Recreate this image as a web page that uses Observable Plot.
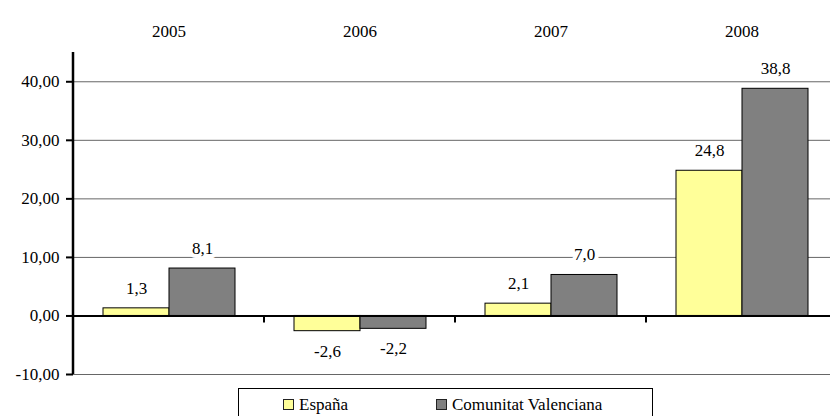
<!DOCTYPE html>
<html>
<head>
<meta charset="utf-8">
<script src="https://cdn.jsdelivr.net/npm/d3@7"></script>
<script src="https://cdn.jsdelivr.net/npm/@observablehq/plot@0.6"></script>
<style>
  html, body { margin: 0; padding: 0; overflow: hidden; background: #fff; }
  #legend { position: relative; margin-left: 238px; margin-top: 4px; width: 413px; height: 40px;
    border: 1px solid #000; font-family: "Liberation Serif", "DejaVu Serif", serif; font-size: 17px; color: #000; }
  .sw { position: absolute; top: 10px; width: 9px; height: 9px; border: 1px solid #222; }
  .lt { position: absolute; top: 7px; line-height: 17px; white-space: nowrap; }
</style>
</head>
<body>
<div id="chart"></div>
<div id="legend"></div>
<script>
const years = ["2005", "2006", "2007", "2008"];
const series = ["España", "Comunitat Valenciana"];
const espana = [1.3, -2.6, 2.1, 24.8];
const valenciana = [8.1, -2.2, 7.0, 38.8];
const colors = ["#FFFF99", "#808080"];
const yTicks = [-10, 0, 10, 20, 30, 40];
const gridTicks = [-10, 10, 20, 30, 40];

const data = years.flatMap((yr, i) => [
  {year: yr, series: series[0], value: espana[i]},
  {year: yr, series: series[1], value: valenciana[i]}
]);
const fmt1 = d => d.toFixed(1).replace(".", ",");
const fmt2 = d => d.toFixed(2).replace(".", ",");
const font = '"Liberation Serif", "DejaVu Serif", serif';

const chart = Plot.plot({
  width: 830,
  height: 384,
  marginLeft: 71,
  marginRight: 0,
  marginTop: 52,
  marginBottom: 10,
  style: {fontFamily: font, fontSize: "17px", background: "white", color: "black"},
  fx: {domain: years, range: [71, 838], padding: 0},
  x: {domain: series, paddingInner: 0, paddingOuter: 0.44, axis: null},
  y: {domain: [-10, 45]},
  color: {domain: series, range: colors},
  marks: [
    Plot.ruleY(gridTicks, {stroke: "#666", strokeWidth: 1}),
    Plot.barY(data, {fx: "year", x: "series", y: "value", fill: "series", stroke: "#000", strokeWidth: 1}),
    Plot.ruleY([0], {stroke: "#000", strokeWidth: 2}),
    Plot.text(data.filter(d => d.value >= 0), {
      fx: "year", x: "series", y: "value", text: d => fmt1(d.value),
      dy: -20, lineAnchor: "middle", fill: "#000", stroke: "white", strokeWidth: 8,
      paintOrder: "stroke", fontSize: 17, fontFamily: font
    }),
    Plot.text(data.filter(d => d.value < 0), {
      fx: "year", x: "series", y: "value", text: d => fmt1(d.value),
      dy: 20, lineAnchor: "middle", fill: "#000", stroke: "white", strokeWidth: 8,
      paintOrder: "stroke", fontSize: 17, fontFamily: font
    }),
    Plot.axisFx({anchor: "top", tickSize: 0, tickPadding: 16, label: null, fontSize: 17, fontFamily: font}),
    Plot.axisY({ticks: yTicks, tickFormat: fmt2, tickSize: 7, tickPadding: 7, strokeWidth: 2, label: null, fontSize: 17, fontFamily: font})
  ]
});
document.getElementById("chart").appendChild(chart);
chart.style.fontFamily = font;

// y axis line and category ticks on the zero line, placed via Plot's own scales
const svg = d3.select(chart);
const fxS = chart.scale("fx"), yS = chart.scale("y");
const x0 = fxS.apply(years[0]);
svg.append("line")
  .attr("x1", x0).attr("x2", x0)
  .attr("y1", yS.apply(yS.domain[1])).attr("y2", yS.apply(yS.domain[0]))
  .attr("stroke", "#000").attr("stroke-width", 2.5);
years.slice(1).forEach(yr => {
  const xx = fxS.apply(yr);
  svg.append("line")
    .attr("x1", xx).attr("x2", xx)
    .attr("y1", yS.apply(0)).attr("y2", yS.apply(0) + 7)
    .attr("stroke", "#000").attr("stroke-width", 2);
});

// legend
const legend = document.getElementById("legend");
const swLeft = [44, 197];
series.forEach((s, i) => {
  const sw = document.createElement("div");
  sw.className = "sw";
  sw.style.left = swLeft[i] + "px";
  sw.style.background = colors[i];
  legend.appendChild(sw);
  const t = document.createElement("div");
  t.className = "lt";
  t.style.left = (swLeft[i] + 16) + "px";
  t.textContent = s;
  legend.appendChild(t);
});
</script>
</body>
</html>
